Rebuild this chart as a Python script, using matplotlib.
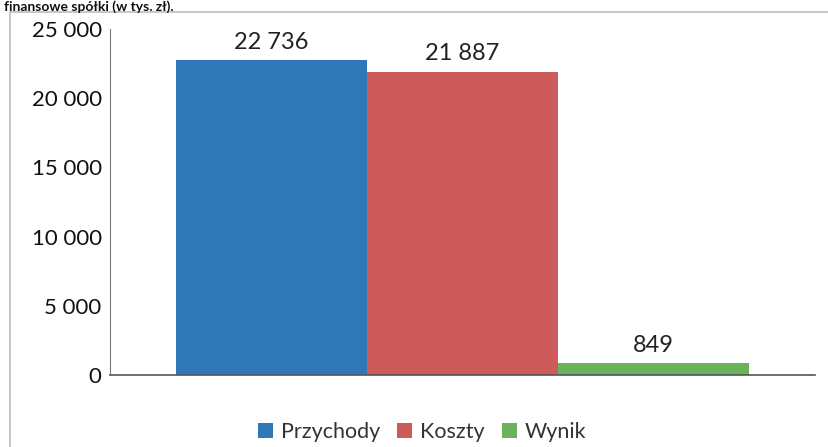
import matplotlib
matplotlib.use("Agg")
import matplotlib.pyplot as plt
from matplotlib.patches import Rectangle

series = ["Przychody", "Koszty", "Wynik"]
values = [22736, 21887, 849]
colors = ["#2f77b7", "#cd5b5b", "#6cb25a"]
yticks = [0, 5000, 10000, 15000, 20000, 25000]


def fmt(v):
    return f"{v:,}".replace(",", " ")


plt.rcParams["font.family"] = ["Lato", "DejaVu Sans"]

fig = plt.figure(figsize=(8.29, 4.47), dpi=100)
W, H = 829, 447

# frame of the chart object (scan)
fig.patches.append(Rectangle((10 / W, -0.1), 1.0, 1 - 12 / H + 0.1, transform=fig.transFigure,
                             fill=False, edgecolor="#bdbdbd", linewidth=1.2))

# heading line from the document above the chart
fig.text(4 / W, 1 - 0.5 / H, "finansowe spółki (w tys. zł).", ha="left", va="top",
         fontsize=10, fontweight="bold", color="#111111")

ax = fig.add_axes([110 / W, 1 - 375 / H, (815 - 110) / W, (375 - 29) / H])

w = 0.271
for i, (s, v, c) in enumerate(zip(series, values, colors)):
    x = (i - 1) * w
    ax.bar(x, v, width=w, color=c, label=s)
    ax.text(x, v + 550, fmt(v), ha="center", va="bottom", fontsize=17, color="#222222")

ax.set_xlim(-0.5, 0.5)
ax.set_ylim(0, 25000)
ax.set_yticks(yticks)
ax.set_yticklabels([fmt(t) for t in yticks], fontsize=16, color="#111111")
ax.set_xticks([])
ax.tick_params(axis="y", length=0, pad=6)
for sp in ["top", "right"]:
    ax.spines[sp].set_visible(False)
ax.spines["left"].set_color("#777777")
ax.spines["bottom"].set_color("#555555")
ax.spines["bottom"].set_linewidth(1.2)

fig.legend(loc="center", bbox_to_anchor=(422 / W, 1 - 432 / H), ncol=3, frameon=False,
           fontsize=15.5, handlelength=0.7, handleheight=0.7, handletextpad=0.35,
           columnspacing=0.8, labelcolor="#333333")

fig.savefig("out.png", dpi=100)
